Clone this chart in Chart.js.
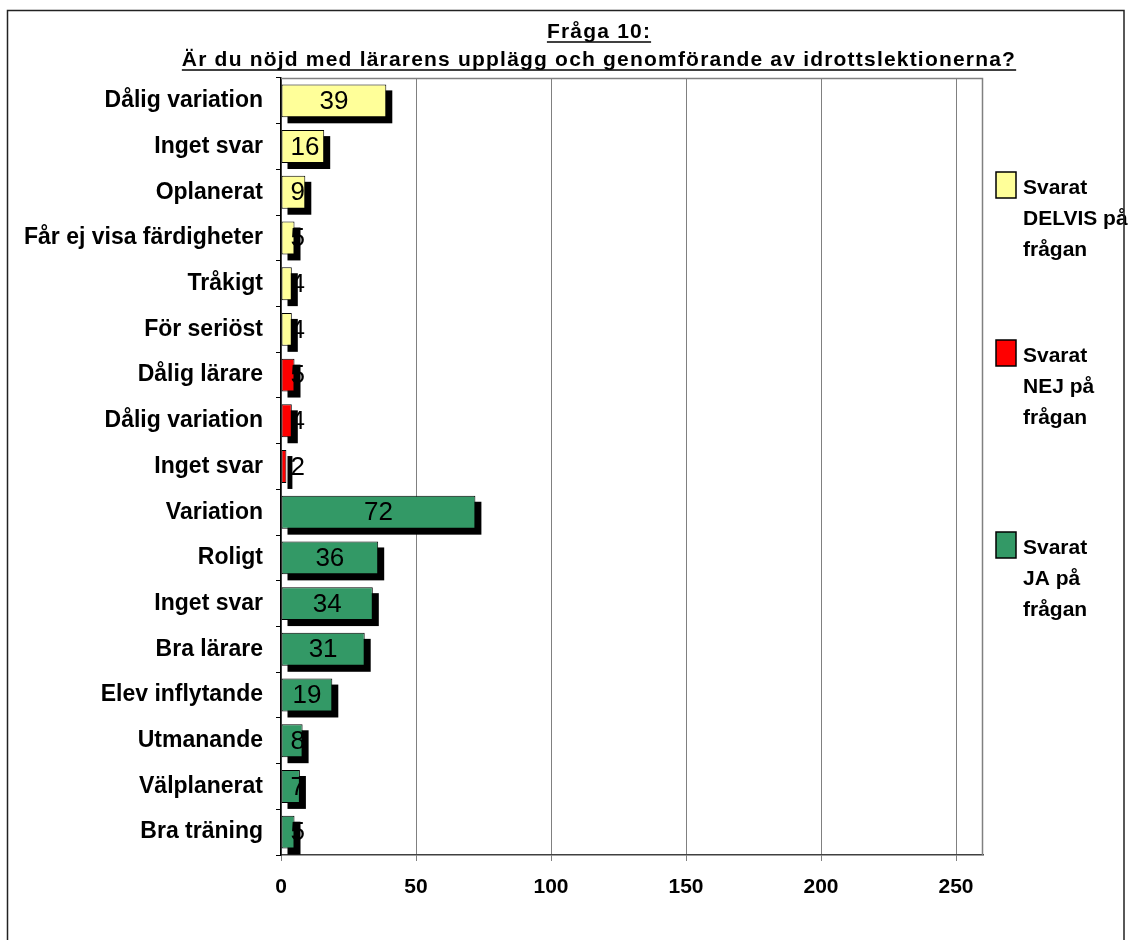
<!DOCTYPE html>
<html>
<head>
<meta charset="utf-8">
<script src="https://cdn.jsdelivr.net/npm/chart.js@4.4.0/dist/chart.umd.min.js"></script>
<style>
  html, body { margin: 0; padding: 0; background: #ffffff; }
  #wrap { width: 1131px; height: 940px; position: relative; }
</style>
</head>
<body>
<div id="wrap"><canvas id="c" width="1131" height="940"></canvas></div>
<script>
// Answer categories, top to bottom
const categories = [
  'Dålig variation', 'Inget svar', 'Oplanerat', 'Får ej visa färdigheter', 'Tråkigt', 'För seriöst',
  'Dålig lärare', 'Dålig variation', 'Inget svar',
  'Variation', 'Roligt', 'Inget svar', 'Bra lärare', 'Elev inflytande', 'Utmanande', 'Välplanerat', 'Bra träning'
];
// Counts per answer group (null where the category belongs to another group)
const delvisValues = [39, 16, 9, 5, 4, 4, null, null, null, null, null, null, null, null, null, null, null];
const nejValues    = [null, null, null, null, null, null, 5, 4, 2, null, null, null, null, null, null, null, null];
const jaValues     = [null, null, null, null, null, null, null, null, null, 72, 36, 34, 31, 19, 8, 7, 5];

const seriesNames = ['Svarat DELVIS på frågan', 'Svarat NEJ på frågan', 'Svarat JA på frågan'];
const legendLines = [['Svarat', 'DELVIS på', 'frågan'], ['Svarat', 'NEJ på', 'frågan'], ['Svarat', 'JA på', 'frågan']];
const titleLines = ['Fråga 10:', 'Är du nöjd med lärarens upplägg och genomförande av idrottslektionerna?'];
const xMax = 260;
const xStep = 50;

const FONT = '"Liberation Sans", Arial, sans-serif';
const colors = ['#FFFF99', '#FF0000', '#339966'];

// Black drop shadow behind every bar
const shadowPlugin = {
  id: 'barShadow',
  beforeDatasetsDraw(chart) {
    const ctx = chart.ctx;
    ctx.save();
    ctx.fillStyle = '#000';
    chart.data.datasets.forEach((ds, i) => {
      const meta = chart.getDatasetMeta(i);
      meta.data.forEach((bar, j) => {
        if (ds.data[j] == null) return;
        const p = bar.getProps(['x', 'y', 'base', 'height'], true);
        ctx.fillRect(p.base + 6, p.y - p.height / 2 + 6, p.x - p.base, p.height);
      });
    });
    ctx.restore();
  }
};

// Value written in the middle of each bar; short bars keep the label clear of the axis
const valueLabelPlugin = {
  id: 'valueLabels',
  afterDatasetsDraw(chart) {
    const ctx = chart.ctx;
    ctx.save();
    ctx.font = '26px ' + FONT;
    ctx.fillStyle = '#000';
    ctx.textAlign = 'center';
    ctx.textBaseline = 'middle';
    chart.data.datasets.forEach((ds, i) => {
      const meta = chart.getDatasetMeta(i);
      meta.data.forEach((bar, j) => {
        const v = ds.data[j];
        if (v == null) return;
        const p = bar.getProps(['x', 'y', 'base'], true);
        const txt = String(v);
        const w = ctx.measureText(txt).width;
        const x = Math.max((p.x + p.base) / 2, p.base + 9 + w / 2);
        ctx.fillText(txt, x, p.y + 1);
      });
    });
    ctx.restore();
  }
};

// Plot frame (top / right), title, side legend and outer border
const decorPlugin = {
  id: 'decor',
  beforeDatasetsDraw(chart) {
    const ctx = chart.ctx;
    const a = chart.chartArea;
    ctx.save();
    ctx.strokeStyle = '#808080';
    ctx.lineWidth = 1.5;
    ctx.beginPath();
    ctx.moveTo(a.left, a.top + 0.5);
    ctx.lineTo(a.right - 0.5, a.top + 0.5);
    ctx.lineTo(a.right - 0.5, a.bottom);
    ctx.stroke();
    ctx.restore();
  },
  afterDraw(chart) {
    const ctx = chart.ctx;
    ctx.save();
    // title
    ctx.fillStyle = '#000';
    ctx.strokeStyle = '#000';
    ctx.textAlign = 'center';
    ctx.textBaseline = 'alphabetic';
    ctx.font = 'bold 21px ' + FONT;
    ctx.letterSpacing = '1.2px';
    const cx = 599;
    const baselines = [38, 66];
    titleLines.forEach((t, i) => {
      ctx.fillText(t, cx, baselines[i]);
      const w = ctx.measureText(t).width;
      ctx.lineWidth = 1.5;
      ctx.beginPath();
      ctx.moveTo(cx - w / 2, baselines[i] + 4);
      ctx.lineTo(cx + w / 2, baselines[i] + 4);
      ctx.stroke();
    });
    ctx.letterSpacing = '0px';

    // legend
    const tops = [172, 340, 532];
    ctx.textAlign = 'left';
    ctx.textBaseline = 'middle';
    ctx.font = 'bold 21px ' + FONT;
    legendLines.forEach((lines, i) => {
      ctx.fillStyle = colors[i];
      ctx.fillRect(996, tops[i], 20, 26);
      ctx.strokeStyle = '#000';
      ctx.lineWidth = 1.5;
      ctx.strokeRect(996, tops[i], 20, 26);
      ctx.fillStyle = '#000';
      lines.forEach((ln, k) => {
        ctx.fillText(ln, 1023, tops[i] + 16 + k * 31);
      });
    });

    // outer border
    ctx.strokeStyle = '#222';
    ctx.lineWidth = 1.5;
    ctx.strokeRect(7.5, 10.5, 1116.5, 1000);
    ctx.restore();
  }
};

const makeSet = (i, data) => ({
  label: seriesNames[i],
  data,
  backgroundColor: colors[i],
  borderColor: '#000',
  borderWidth: 1,
  borderSkipped: false,
  grouped: false,
  categoryPercentage: 1,
  barPercentage: 0.72
});

new Chart(document.getElementById('c'), {
  type: 'bar',
  data: {
    labels: categories,
    datasets: [makeSet(0, delvisValues), makeSet(1, nejValues), makeSet(2, jaValues)]
  },
  options: {
    responsive: false,
    animation: false,
    indexAxis: 'y',
    layout: { padding: { left: 8, right: 148, top: 78, bottom: 0 } },
    plugins: { legend: { display: false }, title: { display: false }, tooltip: { enabled: false } },
    scales: {
      x: {
        min: 0, max: xMax,
        ticks: { stepSize: xStep, includeBounds: false, color: '#000', padding: 14,
                 font: { family: FONT, size: 21, weight: 'bold' } },
        grid: { color: '#808080', lineWidth: 1, tickLength: 6 },
        border: { color: '#404040', width: 1.5 },
        afterFit(s) { s.height = 85; }
      },
      y: {
        ticks: { color: '#000', padding: 13, autoSkip: false,
                 font: { family: FONT, size: 23, weight: 'bold' } },
        grid: { drawOnChartArea: false, tickLength: 5, color: '#000', offset: true },
        border: { color: '#000', width: 1.5 },
        afterFit(s) { s.width = 273; }
      }
    }
  },
  plugins: [shadowPlugin, valueLabelPlugin, decorPlugin]
});
</script>
</body>
</html>
